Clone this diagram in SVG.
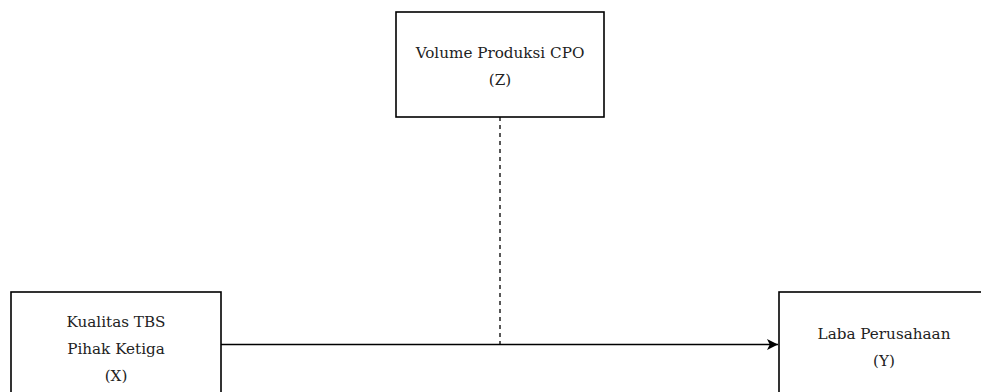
<svg xmlns="http://www.w3.org/2000/svg" width="981" height="392" viewBox="0 0 981 392">
<defs>
<style>
.box{fill:#fff;stroke:#000;stroke-width:1.6}
.t{font-family:"DejaVu Serif","Liberation Serif",serif;font-size:15.2px;fill:#222;text-anchor:middle}
.edge{fill:none;stroke:#000;stroke-width:1.3}
</style>
<marker id="arr" viewBox="0 0 10 10" refX="10" refY="5" markerWidth="11" markerHeight="11" markerUnits="userSpaceOnUse" orient="auto">
<path d="M0,0 L10,5 L0,10 L2.5,5 Z" fill="#000"/>
</marker>
</defs>
<rect width="981" height="392" fill="#fff"/>
<g id="connectors">
<path class="edge" d="M221,344.5 H778" marker-end="url(#arr)"/>
<path class="edge" d="M500,117 V344" stroke-dasharray="4 4"/>
</g>
<g id="nodeZ">
<rect class="box" x="396" y="12" width="208" height="105"/>
<text class="t" x="500" y="58">Volume Produksi CPO</text>
<text class="t" x="500" y="85">(Z)</text>
</g>
<g id="nodeX">
<rect class="box" x="11" y="292" width="210" height="110"/>
<text class="t" x="116" y="327">Kualitas TBS</text>
<text class="t" x="116" y="354">Pihak Ketiga</text>
<text class="t" x="116" y="381">(X)</text>
</g>
<g id="nodeY">
<rect class="box" x="779" y="292" width="210" height="110"/>
<text class="t" x="884" y="339">Laba Perusahaan</text>
<text class="t" x="884" y="366">(Y)</text>
</g>
</svg>
